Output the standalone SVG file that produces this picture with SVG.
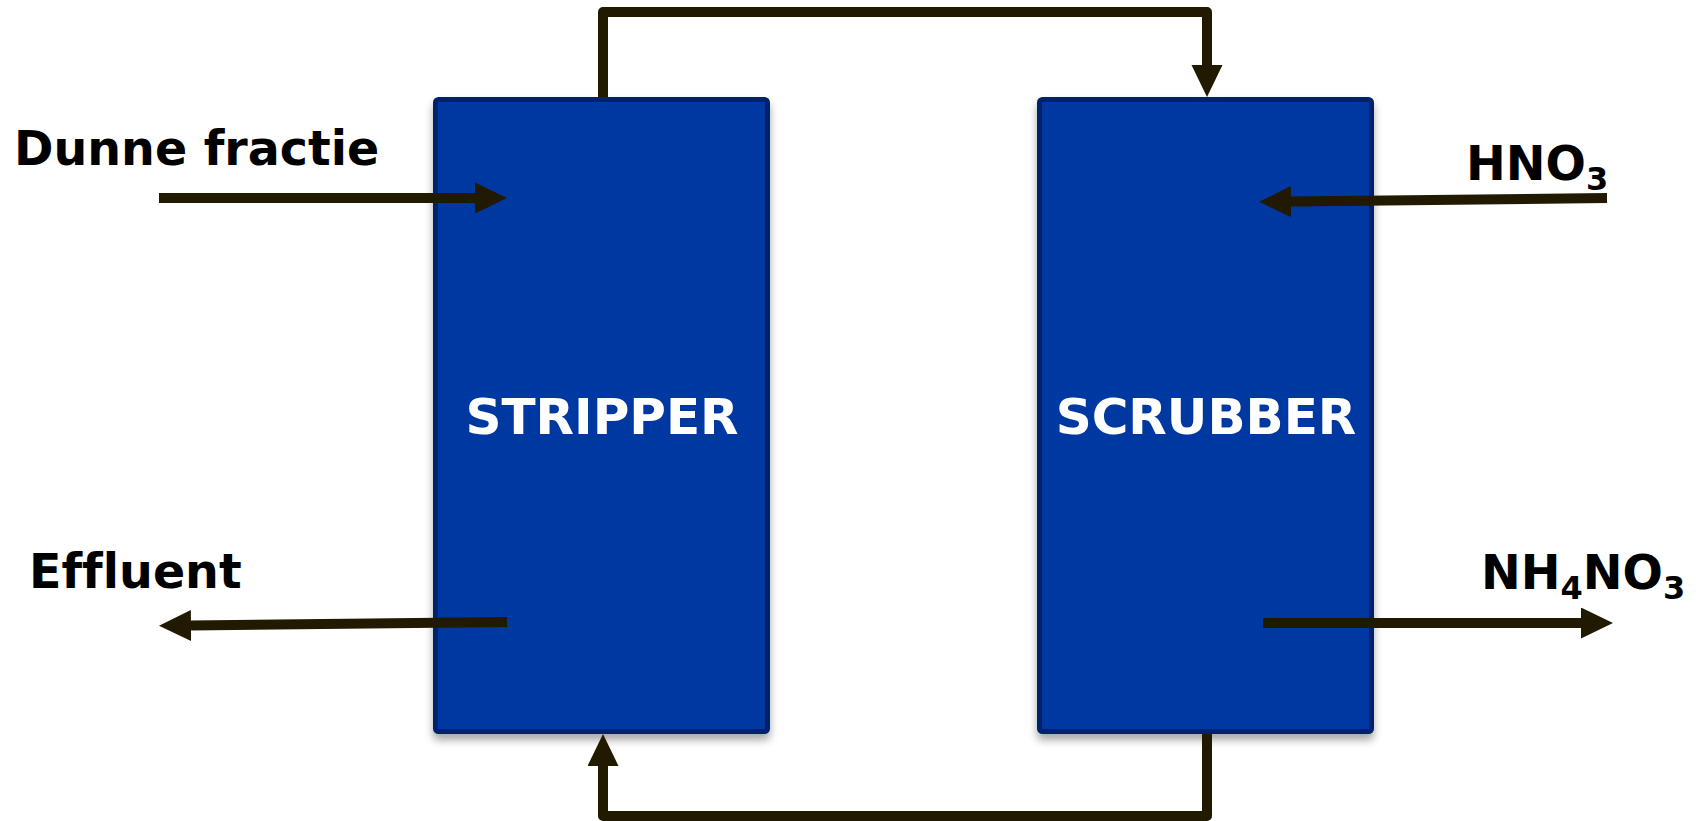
<svg xmlns="http://www.w3.org/2000/svg" width="1696" height="821" viewBox="0 0 1696 821">
  <style>
    .unit { fill: #0038a2; stroke: #00226a; stroke-width: 5; }
    .unit-label { font-family: "DejaVu Sans", Verdana, sans-serif; font-weight: bold; font-size: 50px; fill: #ffffff; text-anchor: middle; }
    .label { font-family: "DejaVu Sans", Verdana, sans-serif; font-weight: bold; font-size: 47.5px; fill: #000000; font-variant-ligatures: none; }
    .sub { font-size: 32px; }
    .flow { fill: none; stroke: #211900; stroke-width: 10; stroke-linejoin: round; }
  </style>
  <defs>
    <filter id="shadow" x="-10%" y="-10%" width="120%" height="120%">
      <feDropShadow dx="0" dy="6" stdDeviation="4" flood-color="#000000" flood-opacity="0.35"/>
    </filter>
    <marker id="head" markerUnits="userSpaceOnUse" markerWidth="34" markerHeight="32" refX="0" refY="15.5" orient="auto">
      <path d="M0,0 L32,15.5 L0,31 Z" fill="#211900"/>
    </marker>
  </defs>

  <!-- process units -->
  <g id="stripper">
    <rect class="unit" x="435.5" y="99.5" width="332" height="632" rx="3" filter="url(#shadow)"/>
    <text class="unit-label" x="602" y="434">STRIPPER</text>
  </g>
  <g id="scrubber">
    <rect class="unit" x="1039.5" y="99.5" width="332" height="632" rx="3" filter="url(#shadow)"/>
    <text class="unit-label" x="1206" y="434">SCRUBBER</text>
  </g>

  <!-- stream labels -->
  <g id="dunne-fractie">
    <text class="label" x="14" y="165">Dunne fractie</text>
  </g>
  <g id="hno3">
    <text class="label" x="1466" y="180">HNO<tspan class="sub" dy="10">3</tspan></text>
  </g>
  <g id="effluent">
    <text class="label" x="29" y="588">Effluent</text>
  </g>
  <g id="nh4no3">
    <text class="label" x="1481" y="589">NH<tspan class="sub" dy="10">4</tspan><tspan dy="-10">NO</tspan><tspan class="sub" dy="10">3</tspan></text>
  </g>

  <!-- connectors -->
  <g id="connectors">
    <path class="flow" d="M159,198 H475" marker-end="url(#head)"/>
    <path class="flow" d="M1607,198 L1291,201.5" marker-end="url(#head)"/>
    <path class="flow" d="M507,622 L191,625.5" marker-end="url(#head)"/>
    <path class="flow" d="M1263,623 H1581" marker-end="url(#head)"/>
    <path class="flow" d="M603,97 V12 H1207 V65" marker-end="url(#head)"/>
    <path class="flow" d="M1207,734 V816 H603 V766" marker-end="url(#head)"/>
  </g>
</svg>
